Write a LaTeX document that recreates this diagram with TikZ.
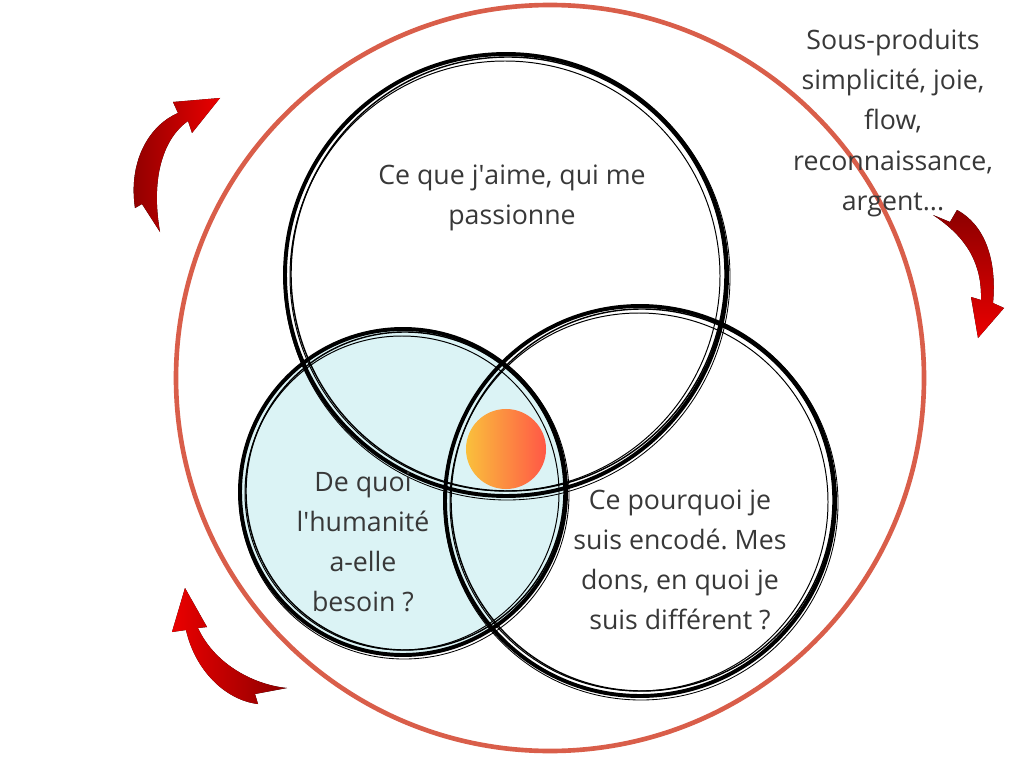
\documentclass[tikz,border=0pt]{standalone}
\usepackage{fontspec}
\setmainfont{Open Sans}
\usetikzlibrary{positioning, calc}
\usepackage{xcolor}
\definecolor{ringred}{HTML}{D95E4A}
\definecolor{paleblue}{HTML}{DBF3F5}
\definecolor{sunyellow}{HTML}{FAC03C}
\definecolor{sunred}{HTML}{FF5746}
\def\ringlw{3.3pt}
\frenchspacing

\begin{document}
\begin{tikzpicture}[x=0.025cm, y=-0.025cm]
    \tikzstyle{label}=[align=center, text=black!78, font=\fontsize{19}{28.5}\selectfont]
    \tikzstyle{redarrow}=[draw=none, left color=red!55!black, right color=red!92!black]
    \tikzstyle{sun}=[circle, minimum size=2cm, inner sep=0pt, shading angle=-45, left color=sunyellow, right color=sunred]

    \useasboundingbox (0,0) rectangle (1024,768);
    \fill[white] (0,0) rectangle (1024,768);

    % centres of the three circles and the outer ring
    \coordinate (ring) at (550,378);
    \coordinate (top) at (506,275);
    \coordinate (left) at (403,492);
    \coordinate (right) at (640,501);

    % outer ring
    \draw[ringred, line width=\ringlw] (ring) circle[x radius=374, y radius=373];

    % pale blue fill of the left circle
    \fill[paleblue] (left) circle[radius=163];

    % the orange sun in the middle
    \node[sun] (ikigai) at (506,449) {};

    % Draw the hand drawn circles
    \foreach \c / \r in {top/221, left/163, right/195}
        \foreach \dx / \dy / \dr / \w in {0/0/0/2.8pt, 2/-1/-4/1pt, -1/1/-6/0.7pt, 1/2/2/0.6pt}
            \draw[black, line width=\w] ($(\c)+(\dx,\dy)$) circle[radius=\r+\dr];

    % Texts
    \node[label] (passion) at (512,198) {Ce que j\textquotesingle aime, qui me\\passionne};
    \node[label] (besoin) at (363,542) {De quoi\\l\textquotesingle humanité\\a-elle\\besoin ?};
    \node[label] (encode) at (680,560) {Ce pourquoi je\\suis encodé. Mes\\dons, en quoi je\\suis différent ?};
    \node[label] (sousprod) at (893,123) {Sous-produits\\simplicité, joie,\\flow,\\reconnaissance,\\argent...};

    % Red curved arrows round the ring
    \fill[redarrow] (135,208) .. controls (128,160) and (150,125) .. (178,113) -- (173,102) -- (220,98)
        -- (192,133) -- (188,121) .. controls (165,137) and (150,175) .. (160,232) -- (142,204) -- cycle;
    \fill[redarrow, shading angle=0] (933,215) -- (950,222) -- (957,210) .. controls (985,225) and (997,260) .. (993,303)
        -- (1004,308) -- (978,338) -- (971,297) -- (981,300) .. controls (982,265) and (968,238) .. (933,215) -- cycle;
    \fill[redarrow, shading angle=-90] (185,588) -- (207,627) -- (198,628) .. controls (215,665) and (255,685) .. (287,688)
        -- (255,694) -- (258,704) .. controls (225,700) and (195,670) .. (186,630) -- (172,632) -- cycle;

\end{tikzpicture}
\end{document}
